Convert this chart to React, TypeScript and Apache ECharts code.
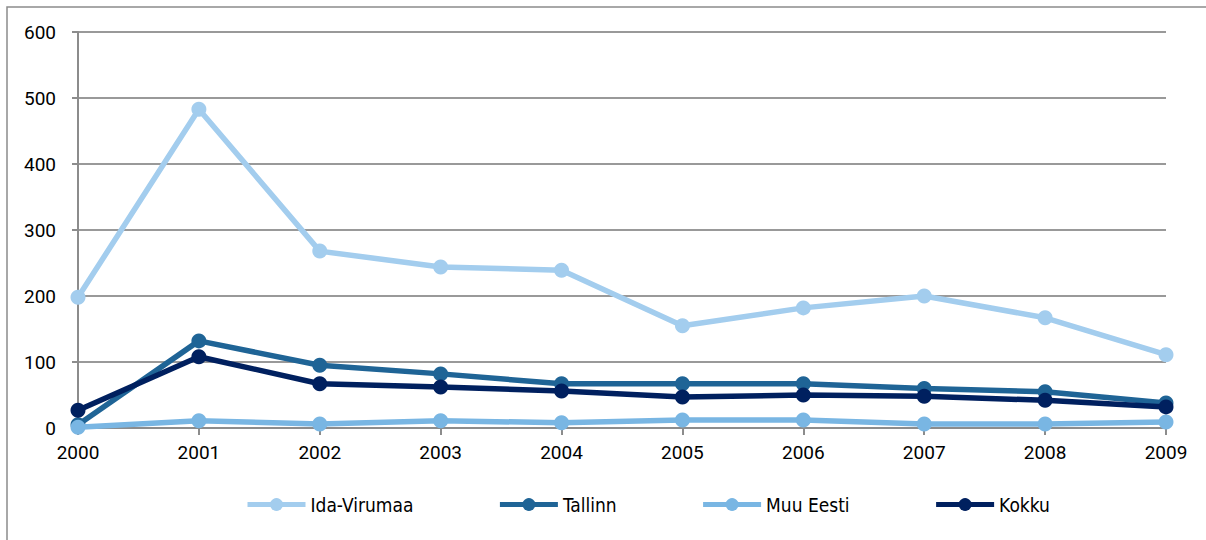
import React, { useEffect, useRef } from "react";
import * as echarts from "echarts";

const years = ["2000", "2001", "2002", "2003", "2004", "2005", "2006", "2007", "2008", "2009"];
const idaVirumaa = [198, 483, 268, 244, 239, 155, 182, 200, 167, 111];
const tallinn = [5, 132, 95, 82, 67, 67, 67, 60, 55, 38];
const muuEesti = [1, 11, 6, 11, 8, 12, 12, 6, 6, 9];
const kokku = [27, 108, 67, 62, 56, 47, 50, 48, 42, 32];

const seriesNames = ["Ida-Virumaa", "Tallinn", "Muu Eesti", "Kokku"];
const seriesColors = ["#a3cdee", "#1f6496", "#79b6e3", "#00205f"];
const seriesData = [idaVirumaa, tallinn, muuEesti, kokku];

export default function App() {
  const ref = useRef<HTMLDivElement>(null);
  useEffect(() => {
    document.body.style.margin = "0";
    const chart = echarts.init(ref.current!, null, { renderer: "svg" });
    chart.setOption({
      animation: false,
      backgroundColor: "#ffffff",
      textStyle: { fontFamily: "Roboto" },
      graphic: [
        {
          type: "rect",
          shape: { x: 7, y: 7, width: 1400, height: 700 },
          style: { fill: "none", stroke: "#8c8c8c", lineWidth: 1.5 },
          silent: true,
          z: -10,
        },
      ],
      grid: { left: 78, right: 40, top: 32, bottom: 112, containLabel: false },
      legend: {
        left: 240,
        top: 490,
        itemWidth: 58,
        itemHeight: 16,
        itemGap: 84,
        lineStyle: { width: 5 },
        textStyle: { fontSize: 19, color: "#000", fontFamily: "DejaVu Sans Condensed" },
        data: seriesNames,
      },
      xAxis: {
        type: "category",
        data: years,
        boundaryGap: false,
        axisLine: { lineStyle: { color: "#8c8c8c", width: 2 } },
        axisTick: { show: true, alignWithLabel: true, length: 7, lineStyle: { color: "#8c8c8c", width: 2 } },
        axisLabel: { fontSize: 19, color: "#000", margin: 15 },
        splitLine: { show: false },
      },
      yAxis: {
        type: "value",
        min: 0,
        max: 600,
        interval: 100,
        axisLine: { show: true, lineStyle: { color: "#8c8c8c", width: 2 } },
        axisTick: { show: true, length: 6, lineStyle: { color: "#8c8c8c", width: 2 } },
        axisLabel: { fontSize: 19, color: "#000", margin: 22 },
        splitLine: { show: true, lineStyle: { color: "#999999", width: 2 } },
      },
      series: seriesNames.map((name, i) => ({
        name,
        type: "line",
        data: seriesData[i],
        color: seriesColors[i],
        symbol: "circle",
        symbolSize: 15,
        lineStyle: { width: 5.5, color: seriesColors[i] },
        itemStyle: { color: seriesColors[i] },
        z: 2 + i,
      })),
    });
    return () => chart.dispose();
  }, []);
  return <div ref={ref} style={{ width: 1206, height: 540 }} />;
}
